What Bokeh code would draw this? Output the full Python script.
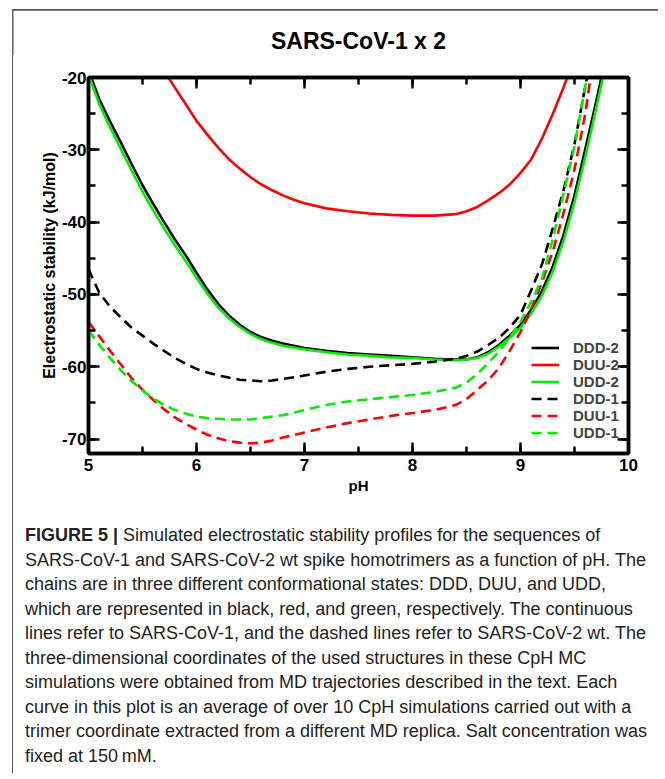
from bokeh.plotting import figure
from bokeh.layouts import column, row
from bokeh.models import (Range1d, LinearAxis, SingleIntervalTicker, Legend,
                          LegendItem, CustomJSTickFormatter, Div,
                          ColumnDataSource)
from bokeh.embed import file_html
from bokeh.resources import INLINE
from bokeh.core.properties import value

# ---------------- data ----------------
ph_ddd2 = [5.0, 5.1, 5.2, 5.3, 5.4, 5.5, 5.6, 5.7, 5.8, 5.9, 6.0, 6.1, 6.2, 6.3,
           6.4, 6.5, 6.6, 6.7, 6.8, 7.0, 7.2, 7.4, 7.6, 7.8, 8.0, 8.2, 8.4, 8.5,
           8.6, 8.7, 8.8, 8.9, 9.0, 9.1, 9.2, 9.3, 9.4, 9.5, 9.6, 9.7, 9.8]
ddd2 = [-19.0, -23.0, -26.1, -29.0, -32.0, -34.9, -37.5, -40.0, -42.4, -44.6,
        -47.0, -49.3, -51.3, -52.9, -54.2, -55.2, -55.9, -56.4, -56.8, -57.4,
        -57.8, -58.1, -58.3, -58.5, -58.7, -58.9, -59.0, -59.0, -58.7, -58.0,
        -57.0, -55.7, -54.2, -52.1, -49.5, -46.1, -41.7, -36.3, -29.9, -23.4,
        -16.5]

ph_udd2 = ph_ddd2
udd2 = [-19.6, -23.7, -26.9, -29.9, -32.9, -35.8, -38.4, -40.9, -43.2, -45.4,
        -47.7, -49.9, -51.8, -53.3, -54.5, -55.5, -56.2, -56.7, -57.1, -57.6,
        -58.0, -58.3, -58.5, -58.7, -58.8, -59.0, -59.1, -59.0, -58.8, -58.2,
        -57.2, -56.0, -54.6, -52.6, -50.1, -46.8, -42.5, -37.2, -31.0, -24.3,
        -17.5]

ph_duu2 = [5.7, 5.8, 5.9, 6.0, 6.1, 6.2, 6.3, 6.4, 6.5, 6.6, 6.7, 6.8, 6.9, 7.0,
           7.2, 7.4, 7.6, 7.8, 8.0, 8.2, 8.4, 8.5, 8.6, 8.7, 8.8, 8.9, 9.0, 9.1,
           9.2, 9.3, 9.4, 9.45, 9.5]
duu2 = [-19.1, -21.4, -23.7, -26.0, -27.9, -29.7, -31.3, -32.6, -33.8, -34.8,
        -35.6, -36.3, -36.9, -37.4, -38.1, -38.5, -38.8, -39.0, -39.1, -39.1,
        -38.9, -38.5, -37.9, -37.0, -36.0, -34.8, -33.2, -31.3, -28.4, -25.0,
        -21.3, -19.3, -17.0]

ph_ddd1 = [5.0, 5.1, 5.2, 5.3, 5.4, 5.5, 5.6, 5.7, 5.8, 5.9, 6.0, 6.1, 6.2, 6.3,
           6.4, 6.5, 6.6, 6.7, 6.8, 7.0, 7.2, 7.4, 7.6, 7.8, 8.0, 8.2, 8.4, 8.5,
           8.6, 8.7, 8.8, 8.9, 9.0, 9.1, 9.2, 9.3, 9.4, 9.5, 9.6, 9.65]
ddd1 = [-46.5, -49.8, -51.7, -53.2, -54.6, -55.7, -56.8, -57.8, -58.8, -59.6,
        -60.3, -60.8, -61.2, -61.5, -61.8, -61.9, -62.0, -61.9, -61.7, -61.2,
        -60.7, -60.3, -60.0, -59.8, -59.6, -59.3, -58.9, -58.5, -57.9, -57.0,
        -56.0, -54.6, -52.8, -49.4, -45.8, -40.8, -35.5, -29.2, -21.2, -17.5]

ph_duu1 = [5.0, 5.1, 5.2, 5.3, 5.4, 5.5, 5.6, 5.7, 5.8, 5.9, 6.0, 6.1, 6.2, 6.3,
           6.4, 6.5, 6.6, 6.7, 6.8, 7.0, 7.2, 7.4, 7.6, 7.8, 8.0, 8.2, 8.4, 8.5,
           8.6, 8.7, 8.8, 8.9, 9.0, 9.1, 9.2, 9.3, 9.4, 9.5, 9.6, 9.65, 9.7]
duu1 = [-53.8, -55.8, -57.8, -59.7, -61.6, -63.2, -64.6, -65.9, -67.0, -67.9,
        -68.7, -69.4, -69.9, -70.3, -70.5, -70.6, -70.5, -70.2, -69.8, -69.1,
        -68.4, -67.8, -67.3, -66.8, -66.4, -66.0, -65.3, -64.5, -63.2, -61.9,
        -60.2, -57.8, -55.2, -52.0, -48.3, -44.0, -38.7, -32.7, -25.0, -19.8,
        -15.0]

ph_udd1 = [5.0, 5.1, 5.2, 5.3, 5.4, 5.5, 5.6, 5.7, 5.8, 5.9, 6.0, 6.1, 6.2, 6.3,
           6.4, 6.5, 6.6, 6.8, 7.0, 7.2, 7.4, 7.6, 7.8, 8.0, 8.2, 8.4, 8.5, 8.6,
           8.7, 8.8, 8.9, 9.0, 9.1, 9.2, 9.3, 9.4, 9.5, 9.6, 9.65]
udd1 = [-55.0, -57.0, -58.8, -60.5, -62.0, -63.3, -64.4, -65.3, -66.0, -66.5,
        -66.9, -67.1, -67.2, -67.3, -67.3, -67.3, -67.1, -66.7, -66.0, -65.3,
        -64.8, -64.5, -64.2, -63.9, -63.5, -62.9, -62.2, -61.0, -59.5, -57.9,
        -56.0, -53.8, -51.0, -47.8, -42.3, -36.0, -29.5, -21.2, -17.0]

series_names = ["DDD-2", "DUU-2", "UDD-2", "DDD-1", "DUU-1", "UDD-1"]

title_text = "SARS-CoV-1 x 2"
caption_bold = "FIGURE 5 |"
caption_lines = [
    "Simulated electrostatic stability profiles for the sequences of",
    "SARS-CoV-1 and SARS-CoV-2 wt spike homotrimers as a function of pH. The",
    "chains are in three different conformational states: DDD, DUU, and UDD,",
    "which are represented in black, red, and green, respectively. The continuous",
    "lines refer to SARS-CoV-1, and the dashed lines refer to SARS-CoV-2 wt. The",
    "three-dimensional coordinates of the used structures in these CpH MC",
    "simulations were obtained from MD trajectories described in the text. Each",
    "curve in this plot is an average of over 10 CpH simulations carried out with a",
    "trimer coordinate extracted from a different MD replica. Salt concentration was",
    "fixed at 150&thinsp;mM.",
]

FONT = "Liberation Sans"
BOX_COLOR = "#555555"

LEFT_W = 13          # strip left of the chart that holds the grey edge
P_W = 645            # chart width
HEAD_H = 55          # head band: grey top edge + title
TOTAL_W = LEFT_W + P_W

# ---------------- head band (title + grey top edge) ----------------
head = figure(width=TOTAL_W, height=HEAD_H, output_backend="svg",
              toolbar_location=None, x_range=Range1d(0, TOTAL_W),
              y_range=Range1d(HEAD_H, 0), x_axis_type=None, y_axis_type=None,
              min_border=0, outline_line_color=None,
              background_fill_color="white", border_fill_color="white")
head.grid.visible = False
head.line(x=[11.6, TOTAL_W], y=[9.4, 9.4], line_color=BOX_COLOR,
          line_width=1.6)
head.line(x=[12.3, 12.3], y=[9.4, HEAD_H], line_color=BOX_COLOR,
          line_width=1.4)
title_src = ColumnDataSource(dict(x=[358], y=[40], text=[title_text]))
head.text(x="x", y="y", text="text", source=title_src,
          text_font=value(FONT), text_font_style="bold",
          text_font_size="23px", text_color="black",
          text_align="center", text_baseline="middle")

# ---------------- main chart ----------------
P_H = 450
p = figure(width=P_W, height=P_H, output_backend="svg", toolbar_location=None,
           x_range=Range1d(5, 10), y_range=Range1d(-72, -20),
           min_border_left=75, min_border_right=30, min_border_top=22,
           min_border_bottom=52, background_fill_color="white",
           border_fill_color="white")
p.grid.visible = False
p.outline_line_color = "black"
p.outline_line_width = 3.5

int_fmt = CustomJSTickFormatter(code="return tick.toFixed(0)")

def style_axis(ax, labels=True):
    ax.axis_line_width = 3.5
    ax.axis_line_color = "black"
    ax.major_tick_in = 11
    ax.major_tick_out = 0
    ax.minor_tick_in = 7
    ax.minor_tick_out = 0
    ax.major_tick_line_width = 2.5
    ax.minor_tick_line_width = 2.5
    ax.major_tick_line_color = "black"
    ax.minor_tick_line_color = "black"
    ax.major_label_text_font = FONT
    ax.major_label_text_font_style = "bold"
    ax.major_label_text_font_size = "17px"
    ax.major_label_text_color = "black" if labels else None
    ax.axis_label_text_font = FONT
    ax.axis_label_text_font_style = "bold"
    ax.axis_label_text_color = "black"
    ax.formatter = int_fmt

p.xaxis.ticker = SingleIntervalTicker(interval=1, num_minor_ticks=2)
p.yaxis.ticker = SingleIntervalTicker(interval=10, num_minor_ticks=2)
style_axis(p.xaxis[0])
style_axis(p.yaxis[0])
p.xaxis.major_label_standoff = 5
p.yaxis.major_label_standoff = 2
p.xaxis.axis_label = "pH"
p.xaxis.axis_label_text_font_size = "15px"
p.xaxis.axis_label_standoff = 3
p.yaxis.axis_label = "Electrostatic stability (kJ/mol)"
p.yaxis.axis_label_text_font_size = "16px"
p.yaxis.axis_label_standoff = 1

top_ax = LinearAxis(ticker=SingleIntervalTicker(interval=1, num_minor_ticks=2))
right_ax = LinearAxis(ticker=SingleIntervalTicker(interval=10, num_minor_ticks=2))
style_axis(top_ax, labels=False)
style_axis(right_ax, labels=False)
top_ax.major_label_standoff = 0
right_ax.major_label_standoff = 0
p.add_layout(top_ax, "above")
p.add_layout(right_ax, "right")

LW = 2.6
DASH = "10 6"
r_ddd2 = p.line(ph_ddd2, ddd2, line_color="black", line_width=LW)
r_duu2 = p.line(ph_duu2, duu2, line_color="#ff0000", line_width=LW)
r_udd2 = p.line(ph_udd2, udd2, line_color="#00ee00", line_width=LW)
r_ddd1 = p.line(ph_ddd1, ddd1, line_color="black", line_width=LW, line_dash=DASH)
r_duu1 = p.line(ph_duu1, duu1, line_color="#ff0000", line_width=LW, line_dash=DASH)
r_udd1 = p.line(ph_udd1, udd1, line_color="#00ee00", line_width=LW, line_dash=DASH)

renderers = [r_ddd2, r_duu2, r_udd2, r_ddd1, r_duu1, r_udd1]
legend = Legend(items=[LegendItem(label=n, renderers=[r])
                       for n, r in zip(series_names, renderers)],
                location=(443, 12), orientation="vertical",
                glyph_width=28, glyph_height=17, label_height=17,
                label_width=40, spacing=0, padding=0, margin=0,
                label_standoff=14, label_text_font=FONT,
                label_text_font_style="bold", label_text_font_size="15px",
                border_line_alpha=0, background_fill_alpha=0)
p.add_layout(legend)

# ---------------- caption (HTML text) ----------------
CAP_H = 268
cap_html = ("<div style=\"padding:18px 0 0 12px; font-family:'Liberation Sans';"
            " font-size:18px; line-height:24.5px; color:#222222;"
            " white-space:nowrap;\">"
            + "<b>" + caption_bold + "</b> " + "<br>".join(caption_lines)
            + "</div>")
cap = Div(text=cap_html, width=P_W, height=CAP_H, margin=0)

# ---------------- grey left edge beside chart and caption ----------------
left_div = Div(text=("<div style=\"margin:0 0 0 11.6px; width:0; height:%dpx;"
                     " border-left:1.4px solid %s;\"></div>"
                     % (P_H + CAP_H, BOX_COLOR)),
               width=LEFT_W, height=P_H + CAP_H, margin=0)

layout = column(head, row(left_div, column(p, cap, spacing=0), spacing=0),
                spacing=0)

open("out.html", "w").write(file_html(layout, INLINE))
